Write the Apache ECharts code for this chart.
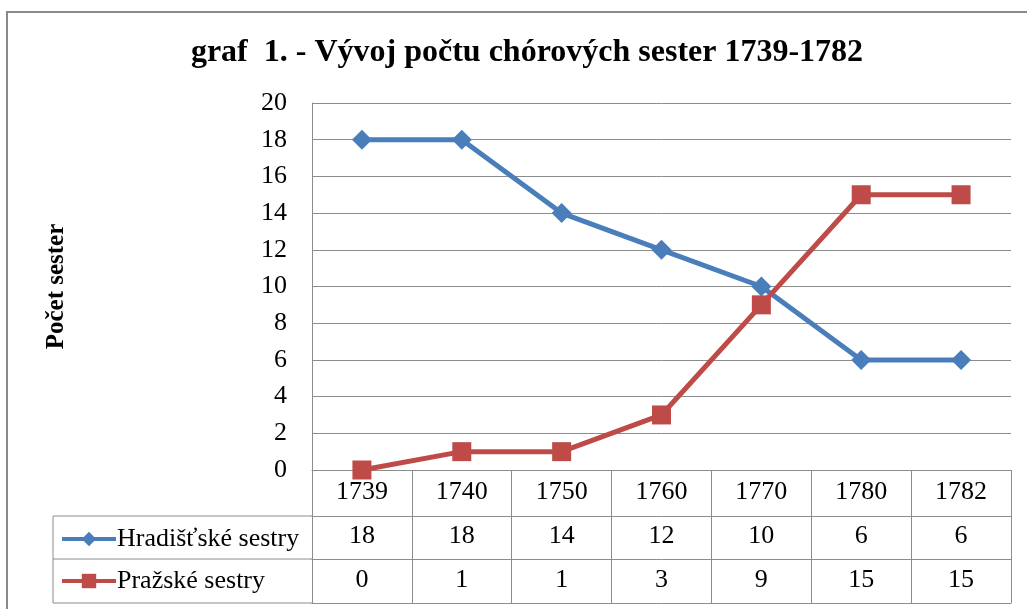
<!DOCTYPE html>
<html>
<head>
<meta charset="utf-8">
<script src="https://cdn.jsdelivr.net/npm/echarts@6/dist/echarts.min.js"></script>
<style>
html,body{margin:0;padding:0;background:#fff;}
#chart{width:1027px;height:609px;}
</style>
</head>
<body>
<div id="chart"></div>
<script>
var titleText = 'graf  1. - Vývoj počtu chórových sester 1739-1782';
var yAxisName = 'Počet sester';
var years = ['1739', '1740', '1750', '1760', '1770', '1780', '1782'];
var seriesNames = ['Hradišťské sestry', 'Pražské sestry'];
var hradisteValues = [18, 18, 14, 12, 10, 6, 6];
var prahaValues = [0, 1, 1, 3, 9, 15, 15];
var yTicks = {min: 0, max: 20, interval: 2};

var FONT = 'Liberation Serif';
var GRAY = '#8c8c8c';
var BLUE = '#4a7ebb';
var RED = '#be4b48';
var LABEL_SIZE = 26;
var LINE_W = 5;

var chart = echarts.init(document.getElementById('chart'), null, {renderer: 'canvas'});

var gridLeft = 312, gridRight = 16, gridTop = 103, gridBottomY = 470;
var rowH = [46, 43, 44];

function tableAxis(offset, values, tickLen, margin, showLabel) {
  return {
    type: 'category', gridIndex: 0, position: 'bottom', offset: offset,
    data: years, boundaryGap: true,
    axisLine: {show: true, lineStyle: {color: GRAY, width: 1}},
    axisTick: {show: tickLen > 0, length: tickLen, interval: 0, lineStyle: {color: GRAY, width: 1}},
    axisLabel: {
      show: showLabel, interval: 0, margin: margin, color: '#000',
      fontFamily: FONT, fontSize: LABEL_SIZE,
      formatter: function (v, i) { return values ? String(values[i]) : v; }
    },
    splitLine: {show: false}
  };
}

var option = {
  animation: false,
  backgroundColor: '#fff',
  title: {
    text: titleText, left: 522, textAlign: 'center', top: 32,
    textStyle: {fontFamily: FONT, fontWeight: 'bold', fontSize: 32, color: '#000'}
  },
  grid: {left: gridLeft, right: gridRight, top: gridTop, bottom: 609 - gridBottomY, containLabel: false},
  legend: {
    orient: 'vertical', left: 55, top: 521,
    itemWidth: 54, itemHeight: 18, itemGap: 16,
    data: seriesNames,
    lineStyle: {width: 4},
    textStyle: {fontFamily: FONT, fontSize: 26, color: '#000', padding: [0, 0, 0, -4]},
    selectedMode: false
  },
  xAxis: [
    tableAxis(0, null, rowH[0], 9, true),
    tableAxis(rowH[0], hradisteValues, rowH[1], 7, true),
    tableAxis(rowH[0] + rowH[1], prahaValues, rowH[2], 8, true),
    tableAxis(rowH[0] + rowH[1] + rowH[2], null, 0, 0, false)
  ],
  yAxis: {
    type: 'value', min: yTicks.min, max: yTicks.max, interval: yTicks.interval,
    name: yAxisName, nameLocation: 'middle', nameRotate: 90, nameGap: 243,
    nameTextStyle: {fontFamily: FONT, fontWeight: 'bold', fontSize: 25, color: '#000'},
    axisLine: {show: true, lineStyle: {color: GRAY, width: 1}},
    axisTick: {show: false},
    axisLabel: {margin: 25, color: '#000', fontFamily: FONT, fontSize: LABEL_SIZE},
    splitLine: {show: true, lineStyle: {color: GRAY, width: 1}}
  },
  series: [
    {
      name: seriesNames[0], type: 'line', xAxisIndex: 0, yAxisIndex: 0, data: hradisteValues,
      symbol: 'diamond', symbolSize: [20, 20],
      lineStyle: {color: BLUE, width: LINE_W},
      itemStyle: {color: BLUE},
      color: BLUE
    },
    {
      name: seriesNames[1], type: 'line', xAxisIndex: 0, yAxisIndex: 0, data: prahaValues,
      symbol: 'rect', symbolSize: [19, 19],
      lineStyle: {color: RED, width: LINE_W},
      itemStyle: {color: RED},
      color: RED
    }
  ],
  graphic: [
    {type: 'rect', shape: {x: 7, y: 12, width: 1100, height: 700}, style: {fill: null, stroke: '#8a8a8a', lineWidth: 2}, silent: true},
    {type: 'line', shape: {x1: 53, y1: gridBottomY + rowH[0], x2: gridLeft, y2: gridBottomY + rowH[0]}, style: {stroke: GRAY, lineWidth: 1}},
    {type: 'line', shape: {x1: 53, y1: gridBottomY + rowH[0] + rowH[1], x2: gridLeft, y2: gridBottomY + rowH[0] + rowH[1]}, style: {stroke: GRAY, lineWidth: 1}},
    {type: 'line', shape: {x1: 53, y1: gridBottomY + rowH[0] + rowH[1] + rowH[2], x2: gridLeft, y2: gridBottomY + rowH[0] + rowH[1] + rowH[2]}, style: {stroke: GRAY, lineWidth: 1}},
    {type: 'line', shape: {x1: 53, y1: gridBottomY + rowH[0], x2: 53, y2: gridBottomY + rowH[0] + rowH[1] + rowH[2]}, style: {stroke: GRAY, lineWidth: 1}}
  ]
};
chart.setOption(option);
</script>
</body>
</html>
